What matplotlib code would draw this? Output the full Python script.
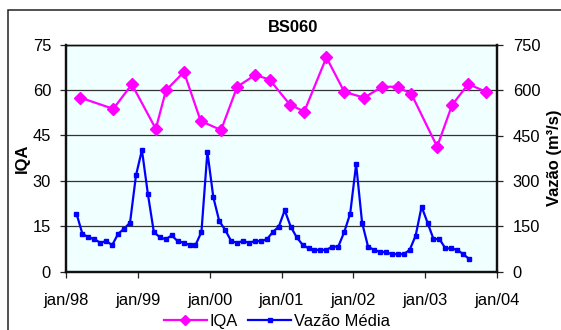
import matplotlib
matplotlib.use('Agg')
import matplotlib.pyplot as plt
from matplotlib.patches import Rectangle

plt.rcParams['font.family'] = ['Liberation Sans', 'DejaVu Sans']

# IQA samples: months since jan/98 and index value
iqa_month = [2.4, 7.9, 11.0, 15.0, 16.7, 19.7, 22.5, 25.9, 28.6, 31.6, 34.0, 37.4,
             39.8, 43.5, 46.5, 49.8, 52.8, 55.4, 57.7, 62.0, 64.5, 67.2, 70.2]
iqa = [57.5, 53.8, 61.9, 47.2, 59.9, 66.0, 49.8, 46.8, 61.1, 65.0, 63.5, 55.2,
       52.9, 70.8, 59.4, 57.5, 61.1, 61.1, 58.7, 41.3, 55.1, 62.0, 59.4]

# monthly mean flow (m3/s), first value in mar/98
flow_start = 1.75
flow = [192, 125, 114, 107, 96, 101, 88, 125, 142, 162,
        318, 402, 257, 131, 114, 107, 120, 101, 96, 88,
        88, 131, 396, 246, 167, 138, 101, 96, 101, 96,
        101, 101, 107, 131, 149, 203, 149, 114, 89, 77,
        72, 72, 72, 83, 83, 131, 192, 355, 162, 83,
        72, 65, 65, 58, 58, 58, 72, 119, 215, 162,
        108, 108, 77, 77, 72, 58, 42]
flow_month = [flow_start + 0.994 * i for i in range(len(flow))]

xlabels = ['jan/98', 'jan/99', 'jan/00', 'jan/01', 'jan/02', 'jan/03', 'jan/04']

fs = 11.9
fig = plt.figure(figsize=(5.61, 3.30), dpi=100)
fig.patches.append(Rectangle((8 / 561, -0.1), 1.2, 1 - 10 / 330 + 0.1, transform=fig.transFigure,
                             fill=False, edgecolor='#222222', linewidth=1.1))

ax1 = fig.add_axes([66 / 561, 1 - 271.7 / 330, 431 / 561, 227 / 330])
ax1.set_facecolor('#F0FFFF')
ax2 = ax1.twinx()
ax2.patch.set_visible(False)

l1, = ax1.plot(iqa_month, iqa, color='#FF00FF', marker='D', markersize=6, linewidth=1.6,
               label='IQA', zorder=3)
l2, = ax2.plot(flow_month, flow, color='#0000FF', marker='s', markersize=3.3, linewidth=1.6,
               label='Vazão Média', zorder=3)

ax1.set_xlim(0, 72)
ax1.set_ylim(0, 75)
ax2.set_ylim(0, 750)
ax1.set_yticks(range(0, 76, 15))
ax2.set_yticks(range(0, 751, 150))
ax1.set_xticks(range(0, 73, 12))
ax1.set_xticklabels(xlabels)
ax1.yaxis.grid(True, color='#333333', linewidth=0.9)
ax1.set_axisbelow(True)

for ax in (ax1, ax2):
    ax.tick_params(labelsize=fs, direction='out', length=4.3, width=0.9, color='#222222')
    for s in ax.spines.values():
        s.set_color('#111111')
    ax.spines['left'].set_linewidth(1.6)
    ax.spines['right'].set_linewidth(1.6)
    ax.spines['bottom'].set_linewidth(1.6)
    ax.spines['top'].set_linewidth(1.0)
ax1.tick_params(axis='y', pad=6.5)
ax2.tick_params(axis='y', pad=7)
ax1.tick_params(axis='x', pad=11)

ax1.set_ylabel('IQA', fontsize=fs, fontweight='bold', labelpad=2)
ax2.set_ylabel('Vazão (m³/s)', fontsize=fs, fontweight='bold', labelpad=5)

fig.text(293 / 561, 1 - 28 / 330, 'BS060', fontsize=fs, fontweight='bold',
         ha='center', va='center')

leg_handles = [
    plt.Line2D([], [], color='#FF00FF', marker='D', markersize=5, linewidth=1.6),
    plt.Line2D([], [], color='#0000FF', marker='s', markersize=3, linewidth=1.6),
]
fig.legend(leg_handles, ['IQA', 'Vazão Média'], loc='center',
           bbox_to_anchor=(277 / 561, 1 - 321.5 / 330),
           ncol=2, frameon=False, fontsize=fs, handlelength=2.6, handletextpad=0.2,
           columnspacing=0.6, borderpad=0, borderaxespad=0)

plt.savefig('out.png', dpi=100)
